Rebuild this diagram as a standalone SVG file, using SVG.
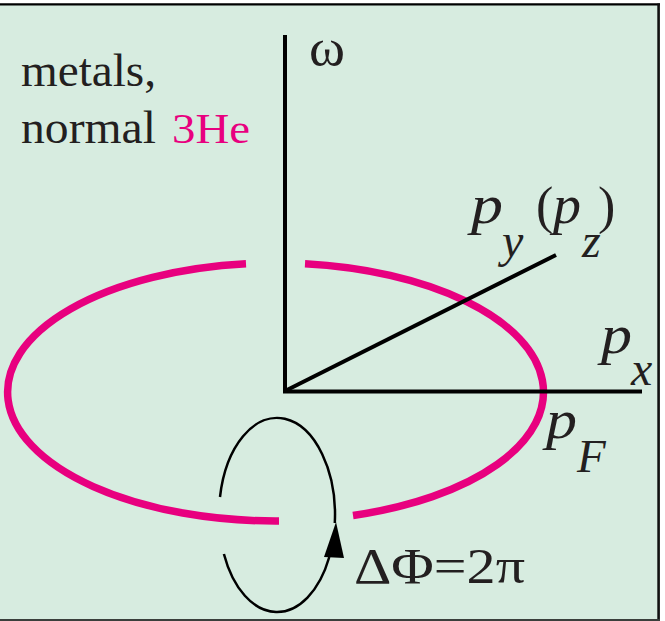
<svg xmlns="http://www.w3.org/2000/svg" width="665" height="621" viewBox="0 0 665 621">
<style>
.txt{font-family:"Liberation Serif","Times New Roman",serif;fill:#231f20}
.it{font-style:italic}
.axis{stroke:#000;stroke-width:4;fill:none}
.fs{stroke:#e8007f;stroke-width:7.5;fill:none;stroke-linecap:butt}
.loop{stroke:#000;stroke-width:2.5;fill:none}
</style>
<rect x="0" y="0" width="665" height="621" fill="#ffffff"/>
<g id="panel">
<rect x="0" y="4" width="658" height="616" fill="#d7ece0"/>
<line x1="0" y1="4.3" x2="660" y2="4.3" stroke="#000" stroke-width="2.2"/>
<line x1="658.6" y1="3.5" x2="658.6" y2="621" stroke="#111" stroke-width="2.6"/>
<line x1="0" y1="620" x2="660" y2="620" stroke="#3a3f3c" stroke-width="2"/>
</g>
<g id="labels">
<text class="txt" font-family="Liberation Serif, serif" x="21" y="86" font-size="47" textLength="135" lengthAdjust="spacingAndGlyphs">metals,</text>
<text class="txt" font-family="Liberation Serif, serif" x="21" y="143" font-size="47" textLength="135" lengthAdjust="spacingAndGlyphs">normal</text>
<text class="txt" font-family="Liberation Serif, serif" x="172" y="143" font-size="42" style="fill:#e8007f" textLength="78" lengthAdjust="spacingAndGlyphs">3He</text>
</g>
<g id="fermi-surface">
<path class="fs" d="M305,263.8 A268,129 0 0 1 353,515.5"/>
<path class="fs" d="M279,521 A268,129 0 0 1 246,263.8"/>
</g>
<g id="connectors">
<line class="axis" x1="285" y1="35" x2="285" y2="393"/>
<line class="axis" x1="283" y1="391.5" x2="642" y2="391.5"/>
<line class="axis" x1="285" y1="391" x2="556" y2="255"/>
<path class="loop" d="M334.8,523 A58,97 0 0 0 220,497"/>
<path class="loop" d="M223.9,554 A58,97 0 0 0 329.3,557"/>
<polygon points="336,522 324,557 344,558" fill="#000"/>
</g>
<g id="axis-labels">
<text class="txt" font-family="Liberation Serif, serif" x="309" y="65" font-size="52" textLength="36" lengthAdjust="spacingAndGlyphs">ω</text>
<text class="txt it" font-family="Liberation Serif, serif" x="471" y="223" font-size="54" textLength="32" lengthAdjust="spacingAndGlyphs">p</text>
<text class="txt it" font-family="Liberation Serif, serif" x="502" y="257" font-size="48">y</text>
<text class="txt" font-family="Liberation Serif, serif" x="536" y="223" font-size="52">(</text>
<text class="txt it" font-family="Liberation Serif, serif" x="553" y="223" font-size="54" textLength="28" lengthAdjust="spacingAndGlyphs">p</text>
<text class="txt it" font-family="Liberation Serif, serif" x="582" y="257" font-size="48">z</text>
<text class="txt" font-family="Liberation Serif, serif" x="598" y="223" font-size="52">)</text>
<text class="txt it" font-family="Liberation Serif, serif" x="601" y="353" font-size="54" textLength="31" lengthAdjust="spacingAndGlyphs">p</text>
<text class="txt it" font-family="Liberation Serif, serif" x="631" y="385" font-size="48">x</text>
<text class="txt it" font-family="Liberation Serif, serif" x="546" y="438" font-size="54" textLength="31" lengthAdjust="spacingAndGlyphs">p</text>
<text class="txt it" font-family="Liberation Serif, serif" x="577" y="472" font-size="47">F</text>
<text class="txt" font-family="Liberation Serif, serif" x="354" y="583" font-size="50" textLength="171" lengthAdjust="spacingAndGlyphs">ΔΦ=2π</text>
</g>
</svg>
